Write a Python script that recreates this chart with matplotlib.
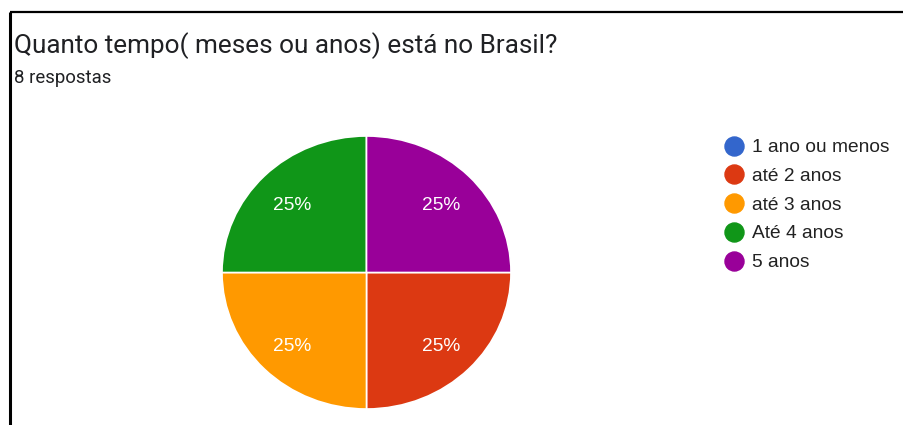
import matplotlib
matplotlib.use("Agg")
import matplotlib.pyplot as plt
import matplotlib.transforms as mtransforms

# Survey answers
categories = ["1 ano ou menos", "até 2 anos", "até 3 anos", "Até 4 anos", "5 anos"]
counts = [0, 2, 2, 2, 2]
colors = ["#3366cc", "#dc3912", "#ff9900", "#109618", "#990099"]
title = "Quanto tempo( meses ou anos) está no Brasil?"
subtitle = "8 respostas"

W, H, DPI = 904, 425, 100
fig = plt.figure(figsize=(W / DPI, H / DPI), dpi=DPI)
fig.patch.set_facecolor("white")

def px_axes(x0, y0, x1, y1):
    """Axes from pixel box (top-left origin)."""
    return fig.add_axes([x0 / W, 1 - y1 / H, (x1 - x0) / W, (y1 - y0) / H])

# Card border (top and left edges) and header texts, in pixel coordinates
frame = fig.add_axes([0, 0, 1, 1])
frame.set_xlim(0, W)
frame.set_ylim(H, 0)
frame.axis("off")
frame.plot([10, W], [12, 12], color="black", lw=1.6, solid_capstyle="butt")
frame.plot([10, 10], [12, H], color="black", lw=2.2, solid_capstyle="butt")

frame.text(14, 53.5, title, fontsize=18.8, family="Roboto", color="#202124",
           va="baseline", ha="left")
frame.text(14, 82.5, subtitle, fontsize=13.4, family="Roboto", color="#202124",
           va="baseline", ha="left")

# Pie
ax = px_axes(222, 136, 511, 409)
shown = [(c, v, col) for c, v, col in zip(categories, counts, colors) if v > 0]
wedges, texts, autotexts = ax.pie(
    [v for _, v, _ in shown],
    colors=[col for _, _, col in shown],
    startangle=0,
    counterclock=False,
    autopct=lambda p: f"{p:.0f}%",
    pctdistance=0.73,
    radius=1,
    wedgeprops=dict(edgecolor="white", linewidth=1.2),
    textprops=dict(color="white", fontsize=13.8, family="Liberation Sans"),
)
ax.set_aspect("auto")
ax.set_xlim(-1, 1)
ax.set_ylim(-1, 1)
ax.axis("off")
for t in autotexts:
    t.set_transform(t.get_transform() + mtransforms.ScaledTranslation(0, -3.5 / DPI, fig.dpi_scale_trans))

# Legend: colour dot plus label per category
leg_y0, leg_step = 145.7, 28.75
for i, (cat, col) in enumerate(zip(categories, colors)):
    y = leg_y0 + i * leg_step
    frame.plot([734], [y], marker="o", markersize=13.7, color=col, markeredgecolor=col)
    frame.text(752, y, cat, fontsize=13.8, family="Liberation Sans", color="#222222",
               va="center_baseline", ha="left")

fig.savefig("out.png", dpi=DPI, facecolor="white")
